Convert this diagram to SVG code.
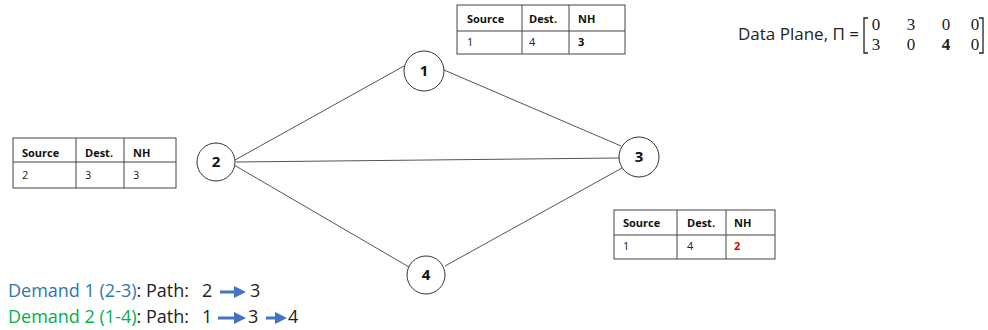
<svg xmlns="http://www.w3.org/2000/svg" width="988" height="330" viewBox="0 0 988 330">
<style>
.tb{fill:#fff;stroke:#444;stroke-width:1}
.tl{stroke:#444;stroke-width:1}
.th{font-family:"Open Sans","Noto Sans",sans-serif;font-size:11px;font-weight:bold;fill:#111}
.tv{font-family:"Open Sans","Noto Sans",sans-serif;font-size:11px;fill:#222}
.node circle{fill:#fff;stroke:#333;stroke-width:1}
.node text{font-family:"Open Sans","Noto Sans",sans-serif;font-size:15px;font-weight:bold;fill:#111;text-anchor:middle}
.edge{stroke:#555;stroke-width:1;fill:none}
.lbl{font-family:"Open Sans","Noto Sans",sans-serif;font-size:18px;fill:#222}
.dp{font-family:"Open Sans","Noto Sans",sans-serif;font-size:17px;fill:#222}
.mx{font-family:"Liberation Serif","DejaVu Serif",serif;font-size:17px;fill:#222;text-anchor:middle}
.arr{stroke:#4472C4;stroke-width:3;fill:none}
</style>
<defs>
<marker id="ah" markerWidth="4" markerHeight="4" refX="2" refY="2" orient="auto" markerUnits="strokeWidth">
<path d="M0,0 L4,2 L0,4 Z" fill="#4472C4"/>
</marker>
</defs>
<g id="connectors">
<line class="edge" x1="235" y1="160" x2="404" y2="66"/>
<line class="edge" x1="444" y1="70" x2="621" y2="146"/>
<line class="edge" x1="236" y1="162" x2="619" y2="158"/>
<line class="edge" x1="234" y1="165" x2="409" y2="267"/>
<line class="edge" x1="622" y1="168" x2="445" y2="266"/>
</g>
<g id="node1" class="node"><circle cx="424" cy="71" r="20"/><text x="424" y="76">1</text></g>
<g id="node2" class="node"><circle cx="216" cy="162" r="19"/><text x="216" y="167">2</text></g>
<g id="node3" class="node"><circle cx="639" cy="157" r="20"/><text x="639" y="162">3</text></g>
<g id="node4" class="node"><circle cx="426" cy="275" r="19"/><text x="426" y="280">4</text></g>
<g id="table1">
<rect class="tb" x="457" y="5" width="168" height="49"/>
<line class="tl" x1="457" y1="31" x2="625" y2="31"/>
<line class="tl" x1="522" y1="5" x2="522" y2="54"/>
<line class="tl" x1="569" y1="5" x2="569" y2="54"/>
<text class="th" x="467" y="23">Source</text><text class="th" x="529" y="23">Dest.</text><text class="th" x="578" y="23">NH</text>
<text class="tv" x="467" y="46">1</text><text class="tv" x="529" y="46">4</text><text class="th" x="578" y="46">3</text>
</g>
<g id="table2">
<rect class="tb" x="13" y="138" width="163" height="50"/>
<line class="tl" x1="13" y1="162" x2="176" y2="162"/>
<line class="tl" x1="76" y1="138" x2="76" y2="188"/>
<line class="tl" x1="124" y1="138" x2="124" y2="188"/>
<text class="th" x="22" y="157">Source</text><text class="th" x="85" y="157">Dest.</text><text class="th" x="133" y="157">NH</text>
<text class="tv" x="22" y="179">2</text><text class="tv" x="85" y="179">3</text><text class="tv" x="133" y="179">3</text>
</g>
<g id="table3">
<rect class="tb" x="614" y="210" width="161" height="49"/>
<line class="tl" x1="614" y1="235" x2="775" y2="235"/>
<line class="tl" x1="677" y1="210" x2="677" y2="259"/>
<line class="tl" x1="726" y1="210" x2="726" y2="259"/>
<text class="th" x="623" y="227">Source</text><text class="th" x="687" y="227">Dest.</text><text class="th" x="734" y="227">NH</text>
<text class="tv" x="623" y="250">1</text><text class="tv" x="687" y="250">4</text><text class="th" x="734" y="250" style="fill:#E00000">2</text>
</g>
<g id="dataplane">
<text class="dp" x="738" y="40">Data Plane, Π =</text>
<path d="M868,18 H864 V53 H868" fill="none" stroke="#222" stroke-width="1.3"/>
<path d="M979,18 H983 V53 H979" fill="none" stroke="#222" stroke-width="1.3"/>
<text class="mx" x="876" y="30">0</text><text class="mx" x="911" y="30">3</text><text class="mx" x="946" y="30">0</text><text class="mx" x="975" y="30">0</text>
<text class="mx" x="876" y="50">3</text><text class="mx" x="911" y="50">0</text><text class="mx" x="946" y="50" font-weight="bold">4</text><text class="mx" x="975" y="50">0</text>
</g>
<g id="demands">
<text class="lbl" x="8" y="297"><tspan fill="#2E75B6">Demand 1 (2-3)</tspan>: Path:</text>
<text class="lbl" x="202" y="297">2</text>
<line class="arr" x1="220" y1="292" x2="240" y2="292" marker-end="url(#ah)"/>
<text class="lbl" x="250" y="297">3</text>
<text class="lbl" x="8" y="323"><tspan fill="#00B050">Demand 2 (1-4)</tspan>: Path:</text>
<text class="lbl" x="202" y="323">1</text>
<line class="arr" x1="218" y1="318" x2="240" y2="318" marker-end="url(#ah)"/>
<text class="lbl" x="248" y="323">3</text>
<line class="arr" x1="266" y1="318" x2="281" y2="318" marker-end="url(#ah)"/>
<text class="lbl" x="288" y="323">4</text>
</g>
</svg>
